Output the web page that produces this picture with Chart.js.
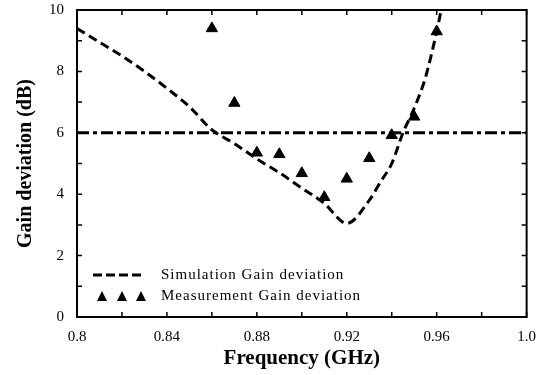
<!DOCTYPE html>
<html lang="en">
<head>
  <meta charset="UTF-8" />
  <title>Gain deviation vs Frequency</title>
  <script src="https://cdn.jsdelivr.net/npm/chart.js"></script>
  <style>
    html, body { margin: 0; padding: 0; background: #fff; }
    #wrap { width: 539px; height: 375px; position: relative; }
  </style>
</head>
<body>
  <div id="wrap"><canvas id="gainChart" width="539" height="375"></canvas></div>
  <script>
    // simulation curve (dashed)
    const simFreq = [0.80, 0.81, 0.82, 0.83, 0.84, 0.85, 0.86, 0.87, 0.88, 0.89, 0.90, 0.91, 0.92, 0.93, 0.935, 0.94, 0.945, 0.95, 0.955, 0.96, 0.962];
    const simGain = [9.4, 8.95, 8.5, 8.0, 7.45, 6.85, 6.1, 5.65, 5.15, 4.7, 4.2, 3.7, 3.05, 3.8, 4.4, 5.0, 6.0, 6.8, 7.8, 9.3, 10.0];

    // measured points (triangles)
    const measFreq = [0.86, 0.87, 0.88, 0.89, 0.90, 0.91, 0.92, 0.93, 0.94, 0.95, 0.96];
    const measGain = [9.4, 6.97, 5.35, 5.3, 4.68, 3.9, 4.5, 5.17, 5.92, 6.52, 9.3];

    // spec limit line (dash-dot)
    const limitFreq = [0.8, 1.0];
    const limitGain = [6, 6];

    const xMajorLabels = ['0.8', '0.84', '0.88', '0.92', '0.96', '1.0'];

    const serif = '"Liberation Serif", "Times New Roman", serif';

    const toPts = (xs, ys) => xs.map((x, i) => ({ x: x, y: ys[i] }));

    // inward tick marks on all four sides + frame + legend
    const frameAndTicks = {
      id: 'frameAndTicks',
      afterDraw(chart) {
        const { ctx, chartArea: a, scales: { x, y } } = chart;
        ctx.save();
        ctx.strokeStyle = '#000';
        ctx.lineWidth = 2;
        ctx.strokeRect(a.left, a.top, a.right - a.left, a.bottom - a.top);
        ctx.lineWidth = 1.5;
        x.ticks.forEach(t => {
          const px = x.getPixelForValue(t.value);
          ctx.beginPath();
          ctx.moveTo(px, a.bottom); ctx.lineTo(px, a.bottom - 5);
          ctx.moveTo(px, a.top); ctx.lineTo(px, a.top + 5);
          ctx.stroke();
        });
        y.ticks.forEach(t => {
          const py = y.getPixelForValue(t.value);
          ctx.beginPath();
          ctx.moveTo(a.left, py); ctx.lineTo(a.left + 5, py);
          ctx.moveTo(a.right, py); ctx.lineTo(a.right - 5, py);
          ctx.stroke();
        });

        // legend
        ctx.font = '15px ' + serif;
        ctx.letterSpacing = '1px';
        ctx.fillStyle = '#000';
        ctx.textBaseline = 'middle';
        ctx.lineWidth = 3;
        ctx.setLineDash([9, 4]);
        ctx.beginPath();
        ctx.moveTo(93, 275); ctx.lineTo(144, 275);
        ctx.stroke();
        ctx.setLineDash([]);
        ctx.fillText('Simulation Gain deviation', 161, 275);
        [102, 122, 141].forEach(cx => {
          ctx.beginPath();
          ctx.moveTo(cx, 291); ctx.lineTo(cx + 5, 301); ctx.lineTo(cx - 5, 301);
          ctx.closePath();
          ctx.fill();
        });
        ctx.fillText('Measurement Gain deviation', 161, 296);
        ctx.restore();
      }
    };

    new Chart(document.getElementById('gainChart'), {
      type: 'scatter',
      data: {
        datasets: [
          {
            label: 'Simulation Gain deviation',
            data: toPts(simFreq, simGain),
            showLine: true,
            borderColor: '#000',
            borderWidth: 3,
            borderDash: [9, 5],
            pointRadius: 0,
            cubicInterpolationMode: 'monotone',
            fill: false
          },
          {
            label: 'Measurement Gain deviation',
            data: toPts(measFreq, measGain),
            showLine: false,
            pointStyle: 'triangle',
            pointRadius: 6.5,
            backgroundColor: '#000',
            borderColor: '#000'
          },
          {
            label: 'Limit',
            data: toPts(limitFreq, limitGain),
            showLine: true,
            borderColor: '#000',
            borderWidth: 3,
            borderDash: [12, 4, 4, 4],
            pointRadius: 0
          }
        ]
      },
      options: {
        responsive: false,
        animation: false,
        layout: { padding: { top: 10, right: 12, left: 0, bottom: 0 } },
        plugins: { legend: { display: false }, tooltip: { enabled: false } },
        scales: {
          x: {
            type: 'linear',
            min: 0.8,
            max: 1.0,
            afterBuildTicks: s => {
              s.ticks = [];
              for (let i = 0; i <= 10; i++) s.ticks.push({ value: 0.8 + i * 0.02 });
            },
            afterFit: s => { s.height = 58; },
            grid: { display: false },
            border: { display: false },
            ticks: {
              color: '#000',
              padding: 3,
              autoSkip: false,
              maxRotation: 0,
              font: { family: serif, size: 15 },
              callback: (v, i) => i % 2 === 0 ? xMajorLabels[i / 2] : ''
            },
            title: {
              display: true,
              text: 'Frequency (GHz)',
              color: '#000',
              font: { family: serif, size: 21, weight: 'bold' },
              padding: { top: 4 }
            }
          },
          y: {
            min: 0,
            max: 10,
            afterFit: s => { s.width = 77; s.paddingTop = 0; s.paddingBottom = 0; },
            grid: { display: false },
            border: { display: false },
            ticks: {
              stepSize: 1,
              color: '#000',
              padding: 5,
              font: { family: serif, size: 15 },
              callback: v => v % 2 === 0 ? v : ''
            },
            title: {
              display: true,
              text: 'Gain deviation (dB)',
              color: '#000',
              font: { family: serif, size: 20, weight: 'bold' },
              padding: { top: 14, bottom: 0 }
            }
          }
        }
      },
      plugins: [frameAndTicks]
    });
  </script>
</body>
</html>
